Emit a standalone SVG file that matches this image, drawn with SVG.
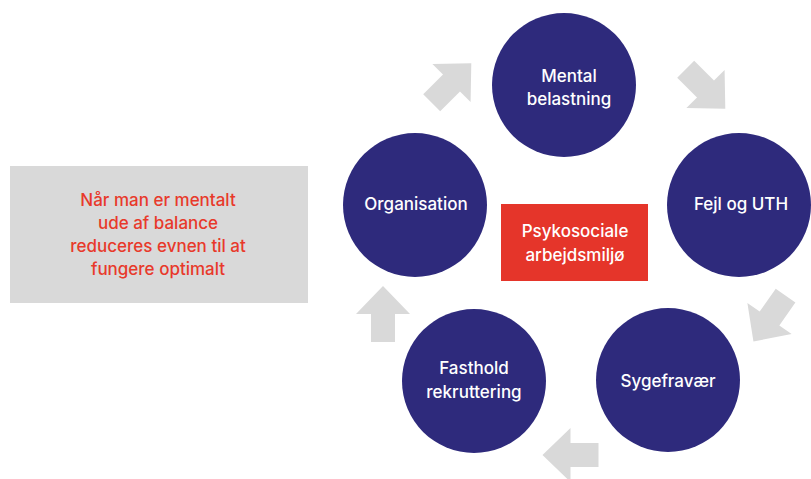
<svg xmlns="http://www.w3.org/2000/svg" width="811" height="479" viewBox="0 0 811 479">
<defs>
<style>
.node{fill:#2e2a7c}
.ct{font-family:Inter,"Liberation Sans",sans-serif;font-size:17px;font-weight:500;fill:#ffffff;text-anchor:middle}
.rt{font-family:Inter,"Liberation Sans",sans-serif;font-size:17px;font-weight:500;fill:#e8392b;text-anchor:middle}
.arr{fill:#d9d9d9}
</style>
<path id="ba" d="M -28,-12 L 0,-12 L 0,-27 L 28,0 L 0,27 L 0,12 L -28,12 Z"/>
</defs>
<rect width="811" height="479" fill="#ffffff"/>
<g id="note">
<rect x="10" y="166" width="298" height="137" fill="#d9d9d9"/>
<text class="rt" x="158" y="206">Når man er mentalt</text>
<text class="rt" x="158" y="229">ude af balance</text>
<text class="rt" x="158" y="252">reduceres evnen til at</text>
<text class="rt" x="158" y="275">fungere optimalt</text>
</g>
<g id="connectors" class="arr">
<use href="#ba" transform="translate(451.5,83) rotate(-45)"/>
<use href="#ba" transform="translate(705.5,89) rotate(45)"/>
<use href="#ba" transform="translate(769.5,318.5) rotate(125)"/>
<use href="#ba" transform="translate(570.5,455) rotate(180)"/>
<use href="#ba" transform="translate(383,314) rotate(-90)"/>
</g>
<g id="mental">
<circle class="node" cx="564" cy="85" r="72"/>
<text class="ct" x="569" y="82">Mental</text>
<text class="ct" x="569" y="105">belastning</text>
</g>
<g id="fejl">
<circle class="node" cx="739" cy="205" r="72"/>
<text class="ct" x="741" y="210">Fejl og UTH</text>
</g>
<g id="sygefravaer">
<circle class="node" cx="668" cy="380" r="72"/>
<text class="ct" x="668" y="387">Sygefravær</text>
</g>
<g id="fasthold">
<circle class="node" cx="474" cy="381" r="72"/>
<text class="ct" x="474" y="374">Fasthold</text>
<text class="ct" x="474" y="398">rekruttering</text>
</g>
<g id="organisation">
<circle class="node" cx="415" cy="205" r="72"/>
<text class="ct" x="416" y="210">Organisation</text>
</g>
<g id="center">
<rect x="501" y="204" width="147" height="77" fill="#e5352a"/>
<text class="ct" x="575" y="237">Psykosociale</text>
<text class="ct" x="575" y="261">arbejdsmiljø</text>
</g>
</svg>
